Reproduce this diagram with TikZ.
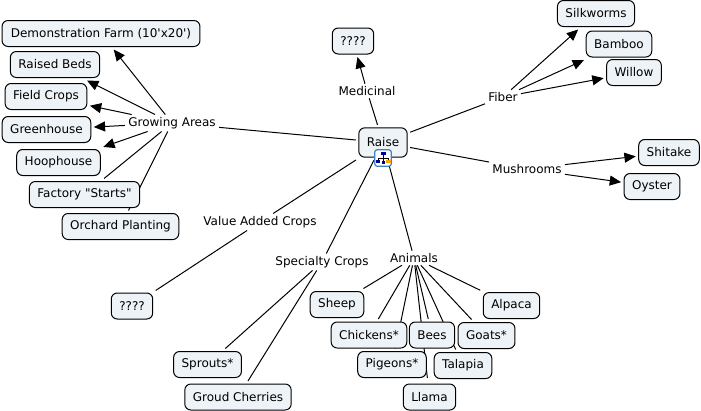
\documentclass[tikz,border=0pt]{standalone}
\usepackage{fontspec}
\setmainfont{DejaVu Sans}[Ligatures=TeXOff]
\usetikzlibrary{arrows.meta,backgrounds}
\definecolor{conceptfill}{HTML}{EDF3F6}
\definecolor{iconblue}{HTML}{3C82C8}
\tikzset{
  concept/.style={draw=black, line width=0.75pt, fill=conceptfill, rounded corners=4.5pt,
    font=\fontsize{9}{11}\selectfont, text=black, minimum height=19.5pt,
    inner xsep=6pt, inner ysep=0pt, outer sep=2.25pt},
  linkname/.style={font=\fontsize{9}{11}\selectfont, text=black,
    inner xsep=2.5pt, inner ysep=2pt, outer sep=0pt},
  link/.style={line width=0.75pt, black},
  arrowlink/.style={link, -{Triangle[length=8.5pt,width=7.5pt]}}
}
\begin{document}
\begin{tikzpicture}[x=0.75pt,y=-0.75pt]
\useasboundingbox (0,0) rectangle (701,411);

% Central concept
\node[concept, minimum height=22pt] (raise) at (383,142.5) {Raise};

% Link names
\node[linkname] (growing) at (172,123) {Growing Areas};
\node[linkname] (medicinal) at (367,91) {Medicinal};
\node[linkname] (fiber) at (503,97) {Fiber};
\node[linkname] (mushrooms) at (527,169) {Mushrooms};
\node[linkname] (valueadded) at (260,222) {Value Added Crops};
\node[linkname] (specialty) at (322,262) {Specialty Crops};
\node[linkname] (animals) at (414,258) {Animals};

% Growing areas
\node[concept, inner xsep=6.6pt] (demo) at (101,33.5) {Demonstration Farm (10'x20')};
\node[concept] (raised) at (55,64.5) {Raised Beds};
\node[concept] (field) at (46,96.5) {Field Crops};
\node[concept] (greenhouse) at (46.5,129.5) {Greenhouse};
\node[concept] (hoophouse) at (58.5,162.5) {Hoophouse};
\node[concept] (factory) at (84.5,194.5) {Factory "Starts"};
\node[concept] (orchard) at (120.5,226.5) {Orchard Planting};

% Top and right
\node[concept] (unknownA) at (353,41) {????};
\node[concept] (silkworms) at (596,13.5) {Silkworms};
\node[concept] (bamboo) at (619,44) {Bamboo};
\node[concept] (willow) at (634,72.5) {Willow};
\node[concept] (shitake) at (669,152.5) {Shitake};
\node[concept] (oyster) at (652,186.5) {Oyster};

% Bottom left
\node[concept] (unknownB) at (132,306) {????};
\node[concept] (sprouts) at (207.5,364.5) {Sprouts*};
\node[concept] (cherries) at (238,397) {Groud Cherries};

% Animals
\node[concept] (sheep) at (337,304.5) {Sheep};
\node[concept] (alpaca) at (511.5,305.5) {Alpaca};
\node[concept] (chickens) at (369,335) {Chickens*};
\node[concept] (bees) at (432,335) {Bees};
\node[concept] (goats) at (486.5,335.5) {Goats*};
\node[concept] (pigeons) at (392,364.5) {Pigeons*};
\node[concept] (talapia) at (463,365.5) {Talapia};
\node[concept, outer sep=4.5pt] (llama) at (429.5,397) {Llama};

% Resource icon on the central concept
\node[draw=iconblue, line width=0.9pt, fill=white, rounded corners=2pt, minimum size=12.5pt,
  inner sep=0pt, outer sep=0pt] (icon) at (383,158) {};
\draw[black, line width=0.5pt] (383,153) -- (383,159) (378,163) -- (378,158) -- (388,158) -- (388,163) (383,158) -- (383,163);
\fill[blue!60!black] (380.5,151.5) rectangle (385.5,155);
\fill[blue!60!black] (375.5,159.5) rectangle (380,163);
\fill[orange!70!yellow] (386,159.5) rectangle (390.5,163);
\fill[blue!60!black] (381.5,161) rectangle (384.5,164);

% Connectors go behind the boxes
\begin{scope}[on background layer]
\foreach \from/\to in {raise/growing, raise/medicinal, raise/fiber, raise/mushrooms,
    raise/valueadded, raise/specialty, raise/animals,
    growing/factory, growing/orchard, valueadded/unknownB,
    specialty/sprouts, specialty/cherries,
    animals/sheep, animals/alpaca, animals/chickens, animals/bees, animals/goats,
    animals/pigeons, animals/talapia, animals/llama}
  \draw[link] (\from) -- (\to);
\foreach \from/\to in {growing/demo, growing/raised, growing/field, growing/greenhouse,
    growing/hoophouse, medicinal/unknownA,
    fiber/silkworms, fiber/bamboo, fiber/willow,
    mushrooms/shitake, mushrooms/oyster}
  \draw[arrowlink] (\from) -- (\to);
\end{scope}

\end{tikzpicture}
\end{document}
